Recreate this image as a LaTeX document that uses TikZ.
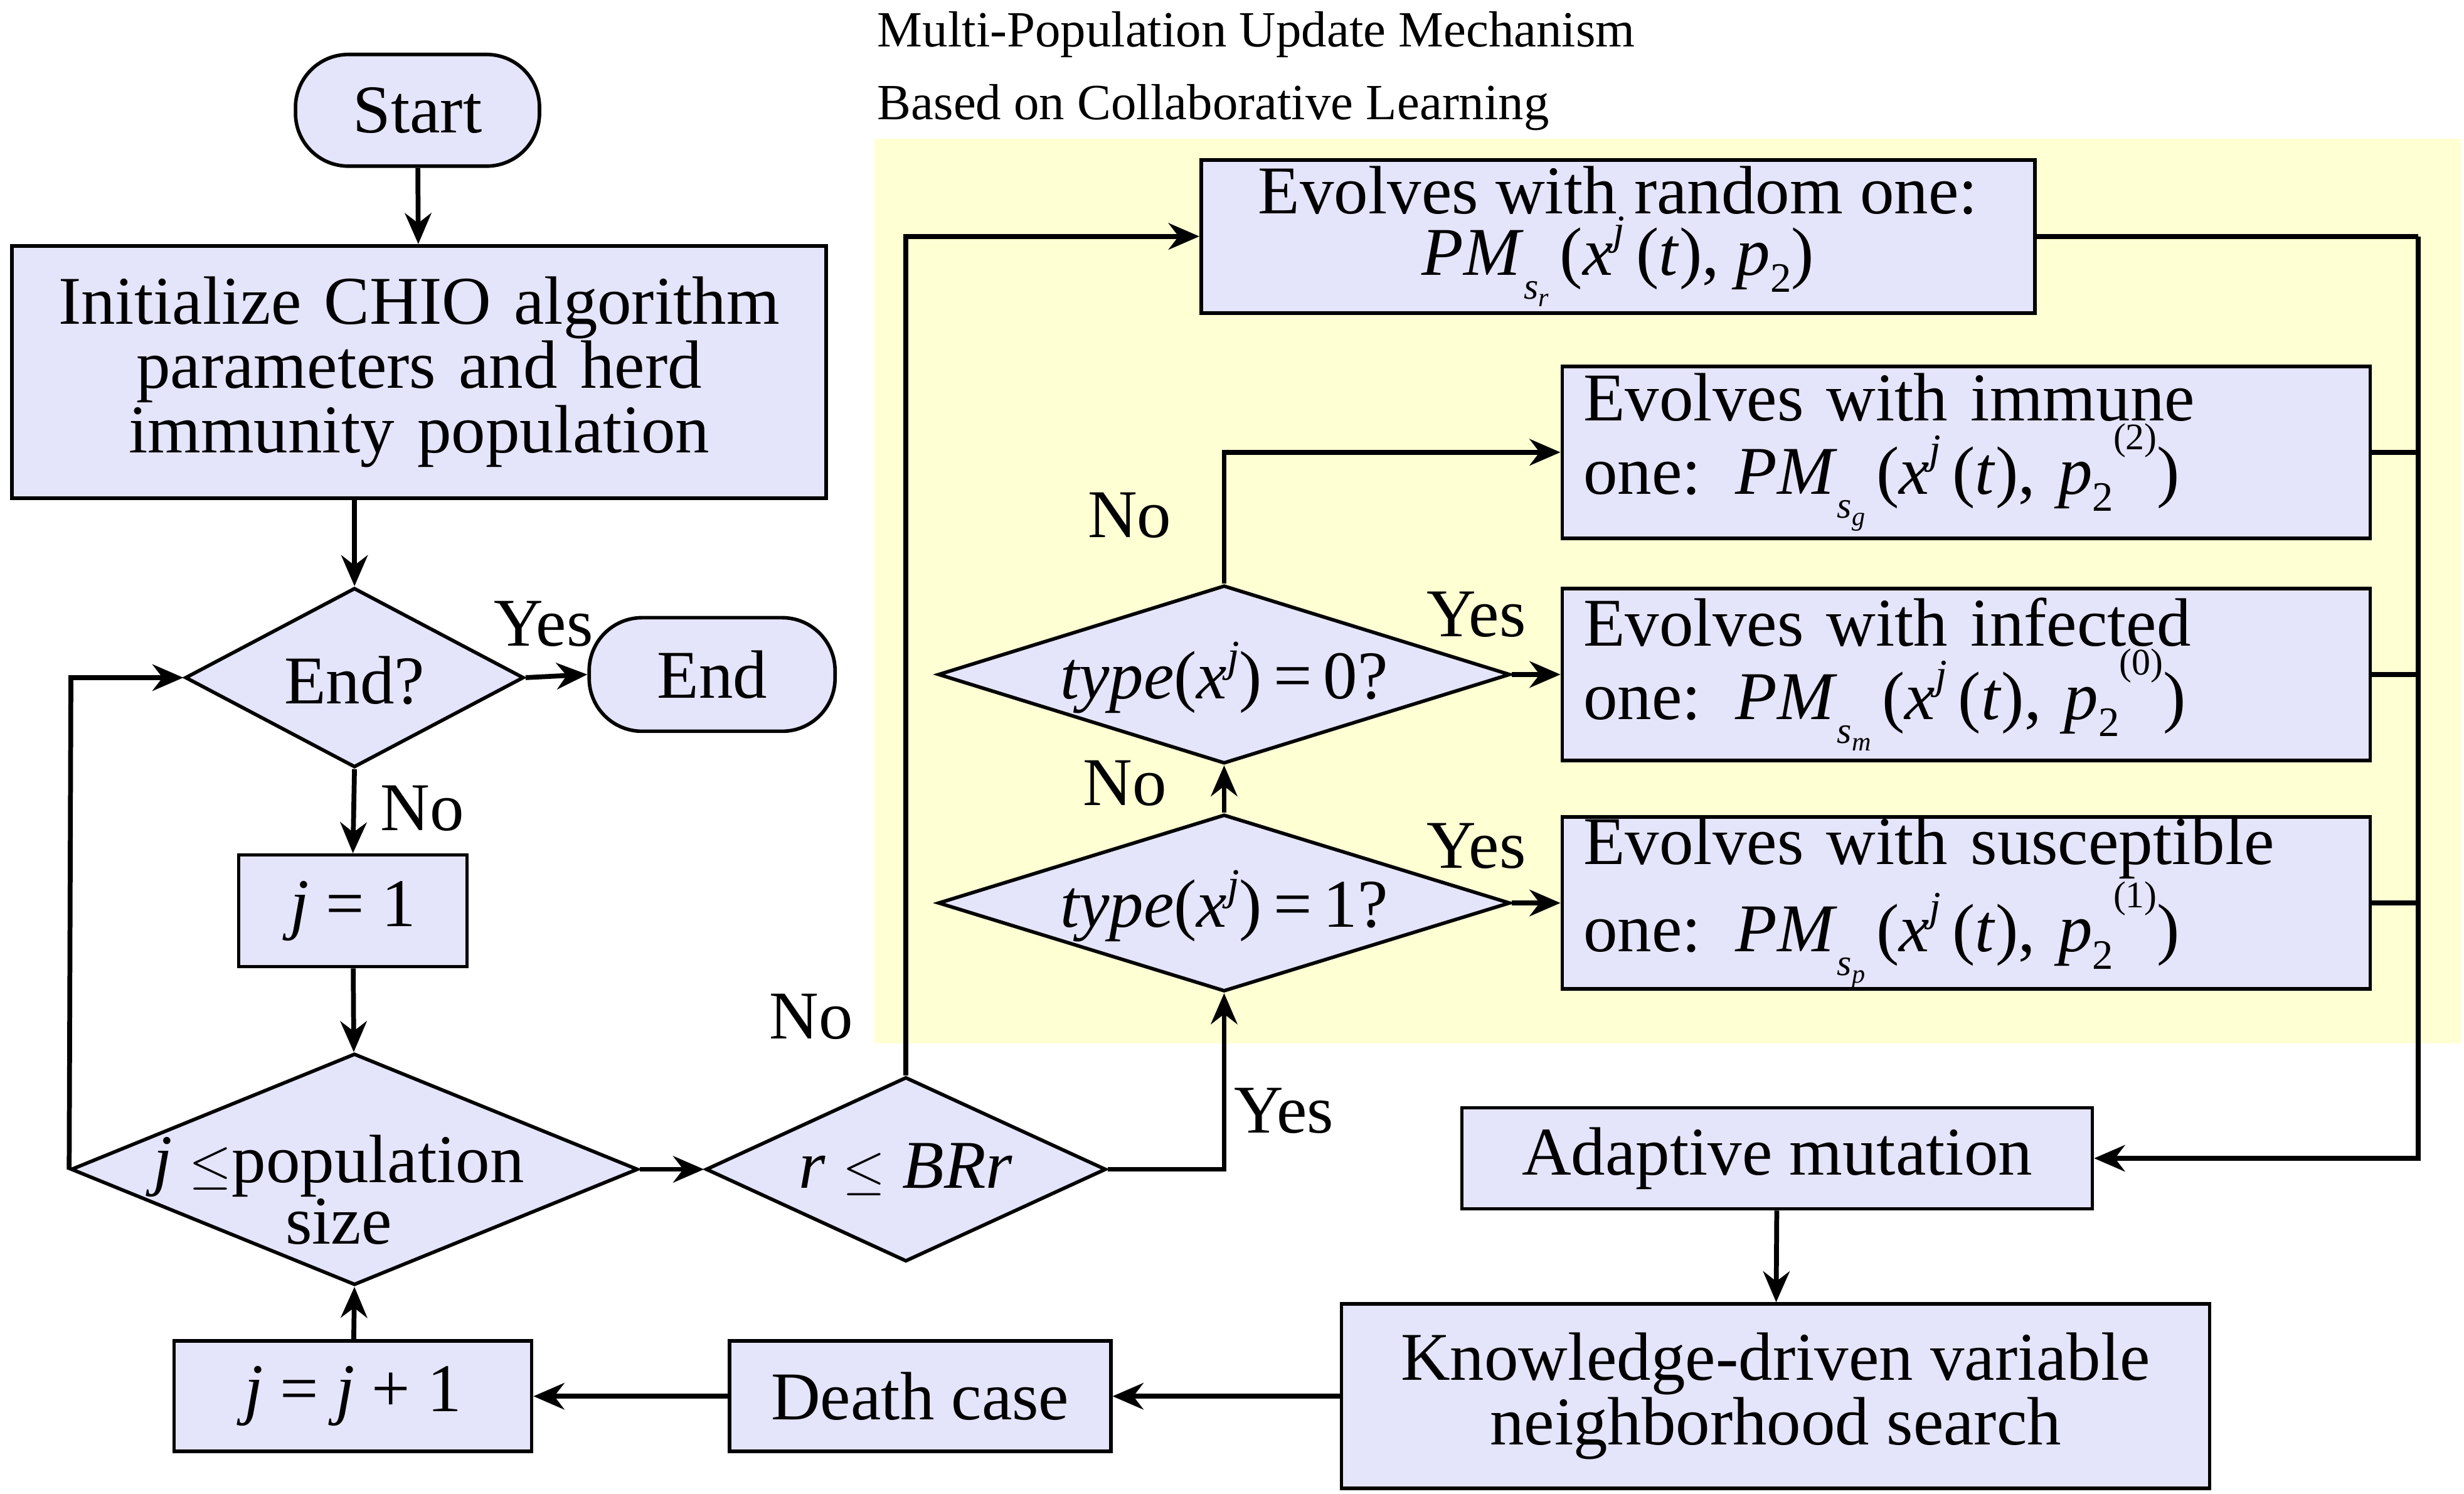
\documentclass[tikz,border=0pt]{standalone}
\usepackage{fontspec}
\setmainfont{Liberation Serif}
\usetikzlibrary{shapes.geometric,arrows.meta}
\definecolor{boxfill}{HTML}{E4E4FA}
\definecolor{ybg}{HTML}{FFFFD4}
\newcommand{\iv}[1]{\textit{#1}}
\newcommand{\PMx}[2]{\iv{PM}\raisebox{-0.35em}{\fontsize{17}{17}\selectfont\iv{s}\raisebox{-0.2em}{\fontsize{12}{12}\selectfont\iv{#1}}}\,(\iv{x}\raisebox{0.45em}{\fontsize{19}{19}\selectfont\iv{j}}\,(\iv{t}), \iv{p}\raisebox{-0.25em}{\fontsize{19}{19}\selectfont 2}#2)}
\begin{document}
\begin{tikzpicture}[x=0.025115cm,y=-0.025115cm,
  every node/.style={font=\fontsize{31}{33}\selectfont},
  box/.style={draw,line width=1.6pt,fill=boxfill,inner sep=0pt,align=center},
  dia/.style={draw,line width=1.6pt,fill=boxfill,diamond,inner sep=0pt,align=center},
  arr/.style={line width=2.2pt,-{Stealth[length=14pt,width=12pt]}},
  ln/.style={line width=2.2pt},
  lab/.style={font=\fontsize{31}{33}\selectfont},
  ebox/.style={box,minimum width=12.88cm,minimum height=2.74cm,text width=12.2cm,align=left,font=\fontsize{31}{26}\selectfont}]
\useasboundingbox (0,0) rectangle (1564,948);
\fill[ybg] (555,88) rectangle (1562,662);
\node[anchor=west,font=\fontsize{23}{25}\selectfont] (t1) at (552,22) {Multi-Population Update Mechanism};
\node[anchor=west,font=\fontsize{23}{25}\selectfont] (t2) at (552,68) {Based on Collaborative Learning};

\node[box,rounded corners=24pt,minimum width=3.89cm,minimum height=1.78cm] (start) at (265,70) {Start};
\node[box,minimum width=12.98cm,minimum height=4.02cm,text width=12.5cm,align=center,font=\fontsize{31}{25}\selectfont] (init) at (266,236) {Initialize CHIO algorithm\\parameters and herd\\immunity population};
\node[dia,minimum width=5.4cm,minimum height=2.86cm] (endq) at (225,430) {};
\node at (225,432) {End?};
\node[box,rounded corners=24pt,minimum width=3.92cm,minimum height=1.81cm] (end) at (452,428) {End};
\node[box,minimum width=3.64cm,minimum height=1.78cm] (j1) at (224,578) {\iv{j} = 1};
\node[dia,minimum width=9.04cm,minimum height=3.69cm] (jpop) at (225,742) {};
\node[align=center,font=\fontsize{31}{25}\selectfont] at (215,755) {\iv{j} $\leq$population\\size};
\node[box,minimum width=5.7cm,minimum height=1.76cm] (jinc) at (224,886) {\iv{j} = \iv{j} + 1};
\node[box,minimum width=6.08cm,minimum height=1.76cm] (death) at (584,886) {Death case};
\node[box,minimum width=13.84cm,minimum height=2.94cm,font=\fontsize{31}{25}\selectfont] (know) at (1127,886) {Knowledge-driven variable\\neighborhood search};
\node[box,minimum width=10.05cm,minimum height=1.61cm] (adapt) at (1128,735) {Adaptive mutation};
\node[dia,minimum width=6.38cm,minimum height=2.94cm] (rbr) at (575,742) {};
\node at (575,742) {\iv{r} $\leq$ \iv{BRr}};

\node[box,minimum width=13.29cm,minimum height=2.44cm,font=\fontsize{31}{26}\selectfont] (rand) at (1027,150) {Evolves with random one:\\\PMx{r}{}};
\node[ebox] (imm) at (1248,287) {Evolves with immune\\one: \PMx{g}{\raisebox{0.65em}{\fontsize{17}{17}\selectfont(2)}}};
\node[ebox] (inf) at (1248,428) {Evolves with infected\\one: \PMx{m}{\raisebox{0.65em}{\fontsize{17}{17}\selectfont(0)}}};
\node[ebox] (sus) at (1248,573) {Evolves with susceptible\\one: \PMx{p}{\raisebox{0.65em}{\fontsize{17}{17}\selectfont(1)}}};
\node[dia,minimum width=9.12cm,minimum height=2.84cm] (ty0) at (777,428) {};
\node at (777,430) {\iv{type}(\iv{x}\raisebox{0.4em}{\iv{\fontsize{20}{20}\selectfont j}})\,=\,0?};
\node[dia,minimum width=9.12cm,minimum height=2.82cm] (ty1) at (777,573) {};
\node at (777,575) {\iv{type}(\iv{x}\raisebox{0.4em}{\iv{\fontsize{20}{20}\selectfont j}})\,=\,1?};

\draw[arr] (start) -- (init);
\draw[arr] (endq.north |- init.south) -- (endq.north);
\draw[arr] (endq.east) -- (end.west);
\node[lab] at (345,396) {Yes};
\draw[arr] (endq.south) -- (j1.north);
\node[lab] at (268,513) {No};
\draw[arr] (j1) -- (jpop);
\coordinate (c1) at (45,430);
\draw[arr] (jpop.west) -- (c1) -- (endq.west);
\draw[arr] (jinc) -- (jpop.south);
\draw[arr] (death) -- (jinc);
\draw[arr] (know) -- (death);
\draw[arr] (adapt) -- (know);
\draw[arr] (jpop.east) -- (rbr.west);
\coordinate (c2) at (575,150);
\draw[arr] (rbr.north) -- (c2) -- (rand.west);
\node[lab] at (515,645) {No};
\coordinate (c3) at (777,742);
\draw[arr] (rbr.east) -- (c3) -- (ty1.south);
\node[lab] at (815,705) {Yes};
\draw[arr] (ty1.north) -- (ty0.south);
\node[lab] at (714,497) {No};
\coordinate (c4) at (777,287);
\draw[arr] (ty0.north) -- (c4) -- (imm.west);
\node[lab] at (717,327) {No};
\draw[arr] (ty0.east) -- (inf.west);
\node[lab] at (937,390) {Yes};
\draw[arr] (ty1.east) -- (sus.west);
\node[lab] at (937,537) {Yes};
\coordinate (r0) at (1535,150);
\coordinate (r1) at (1535,287);
\coordinate (r2) at (1535,428);
\coordinate (r3) at (1535,573);
\coordinate (r4) at (1535,735);
\draw[ln] (rand.east) -- (r0);
\draw[ln] (imm.east) -- (r1);
\draw[ln] (inf.east) -- (r2);
\draw[ln] (sus.east) -- (r3);
\draw[arr] (r0) -- (r4) -- (adapt.east);
\end{tikzpicture}
\end{document}
